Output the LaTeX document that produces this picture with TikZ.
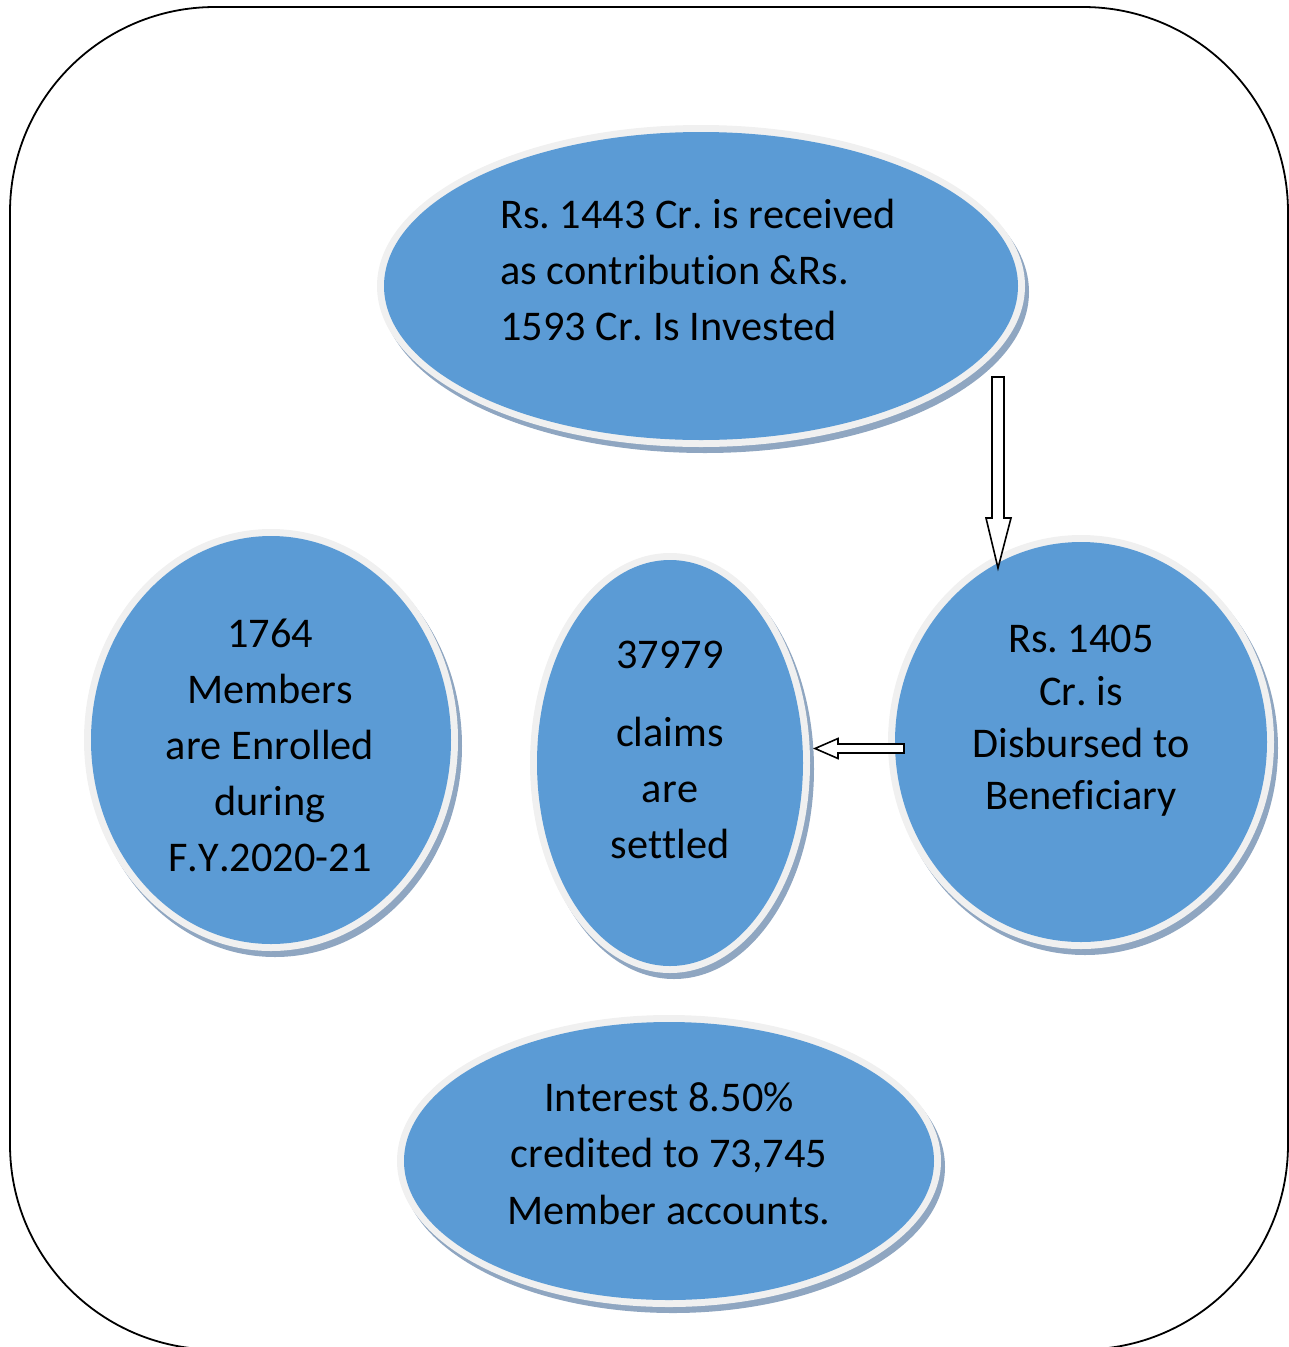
\documentclass[tikz,border=0pt]{standalone}
\usepackage{fontspec}
\setmainfont[Kerning=Off,Ligatures=NoCommon]{Carlito}
\usetikzlibrary{shapes.geometric}
\definecolor{bubblue}{HTML}{5B9BD5}
\definecolor{bubring}{HTML}{F0F0F0}
\definecolor{bubshadow}{HTML}{8FA6C1}
\tikzset{
  shadowell/.style={ellipse, fill=bubshadow, draw=none, inner sep=0pt},
  ringell/.style={ellipse, fill=bubring, draw=none, inner sep=0pt},
  blueell/.style={ellipse, fill=bubblue, draw=none, inner sep=0pt},
  lbl/.style={font=\fontsize{42.3}{56}\selectfont, inner sep=0pt, text=black},
  blockarrow/.style={draw=black, fill=white, line width=1.6pt, line join=miter},
  frame/.style={draw=black, line width=1.8pt, rounded corners=205pt}
}
\newcommand\bubble[5]{%
  \node[shadowell, minimum width={2*(#4+7)}, minimum height={2*(#5+7)}] (#1-sh) at ({#2+4},{#3+6}) {};
  \node[ringell, minimum width={2*(#4+7)}, minimum height={2*(#5+7)}] (#1-ring) at (#2,#3) {};
  \node[blueell, minimum width={2*#4}, minimum height={2*#5}] (#1) at (#2,#3) {};
}
\begin{document}
\frenchspacing
\begin{tikzpicture}[x=1pt,y=-1pt]
\useasboundingbox (0,0) rectangle (1289,1347);
\begin{scope}
\clip (0,0) rectangle (1289,1347);
\draw[frame] (10,7) rectangle (1288,1349.5);
\end{scope}

\bubble{top}{701}{286}{317}{154}
\bubble{left}{271}{740}{180}{204}
\bubble{mid}{670}{763}{133}{203}
\bubble{right}{1081}{742}{186}{200}
\bubble{bot}{669}{1161}{265}{139}

% top text
\node[lbl, anchor=base west] (t1) at (500,228) {Rs. 1443 Cr. is received};
\node[lbl, anchor=base west] (t2) at (500,284) {as contribution \&Rs.};
\node[lbl, anchor=base west] (t3) at (500,340) {1593 Cr. Is Invested};

% left text
\node[lbl, anchor=base] (l1) at (270,647) {1764};
\node[lbl, anchor=base] (l2) at (270,703) {Members};
\node[lbl, anchor=base] (l3) at (270,759) {are Enrolled};
\node[lbl, anchor=base] (l4) at (270,815) {during};
\node[lbl, anchor=base] (l5) at (270,871) {F.Y.2020-21};

% middle text
\node[lbl, anchor=base] (m1) at (670,668) {37979};
\node[lbl, anchor=base] (m2) at (670,746) {claims};
\node[lbl, anchor=base] (m3) at (670,802) {are};
\node[lbl, anchor=base] (m4) at (670,858) {settled};

% right text
\node[lbl, anchor=base] (r1) at (1081,652) {Rs. 1405};
\node[lbl, anchor=base] (r2) at (1081,705) {Cr. is};
\node[lbl, anchor=base] (r3) at (1081,757) {Disbursed to};
\node[lbl, anchor=base] (r4) at (1081,809) {Beneficiary};

% bottom text
\node[lbl, anchor=base] (b1) at (669,1111) {Interest 8.50\%};
\node[lbl, anchor=base] (b2) at (669,1167) {credited to 73,745};
\node[lbl, anchor=base] (b3) at (669,1224) {Member accounts.};

% block arrows
\coordinate (dA) at (998,377);
\coordinate (dB) at (998,568);
\draw[blockarrow] (dA) ++(-6,0) -- ++(12,0) -- ++(0,141) -- ++(7,0)
  -- (dB) -- ++(-12,-50) -- ++(6,0) -- cycle;

\coordinate (hA) at (904,748.5);
\coordinate (hB) at (815,748.5);
\draw[blockarrow] (hA) ++(0,-4.5) -- ++(0,9) -- ++(-66,0) -- ++(0,5.5)
  -- (hB) -- ++(23,-10) -- ++(0,5.5) -- cycle;
\end{tikzpicture}
\end{document}
